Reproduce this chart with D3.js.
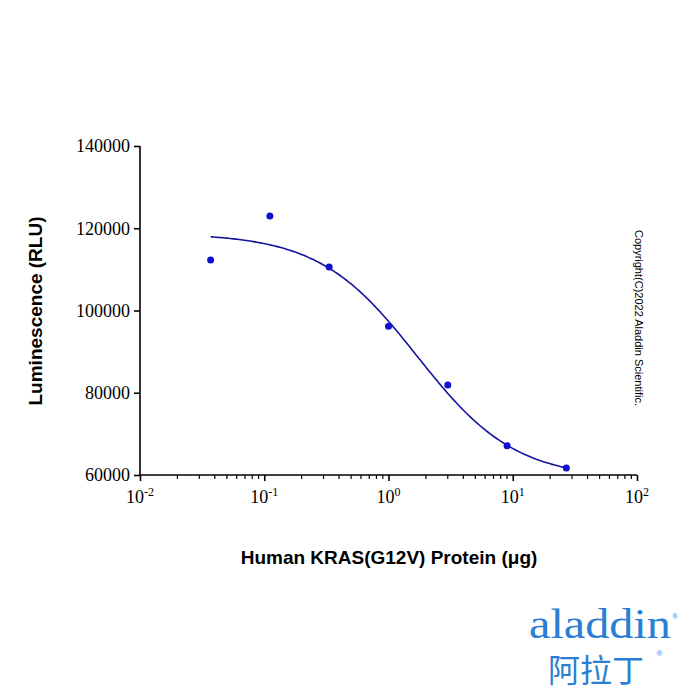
<!DOCTYPE html>
<html><head><meta charset="utf-8">
<script src="https://cdn.jsdelivr.net/npm/d3@7"></script>
<style>body{margin:0;background:#fff}</style></head>
<body><svg id="c" width="700" height="700"></svg>
<script>
const doses = [0.037, 0.111, 0.333, 1, 3, 9, 27];
const lum = [112300, 123000, 110600, 96200, 81900, 67100, 61700];
const yTicks = [60000, 80000, 100000, 120000, 140000];
const xTickExps = [-2, -1, 0, 1, 2];
// 4PL fit parameters
const fitTop = 118800, fitBottom = 59000, fitEC50 = 1.7, fitHill = 1.1;

const svg = d3.select("#c");
const x = d3.scaleLog().domain([0.01, 100]).range([140, 637]);
const y = d3.scaleLinear().domain([60000, 140000]).range([475, 146]);
const serif = "Liberation Serif, Times New Roman, serif";

const ya = svg.append("g").attr("transform","translate(140,0)")
  .call(d3.axisLeft(y).tickValues(yTicks).tickSize(6).tickFormat(d3.format("d")));
ya.selectAll("text").attr("font-family",serif).attr("font-size",18).attr("fill","#000").attr("dx",-1);
ya.selectAll("line,path").attr("stroke","#000").attr("stroke-width",1.6);
ya.select(".domain").attr("d","M0,475V146");

const minor = [];
for (let e=-2;e<2;e++) for (let k=2;k<=9;k++) minor.push(k*Math.pow(10,e));
const xa = svg.append("g").attr("transform","translate(0,475)");
xa.call(d3.axisBottom(x).tickValues(xTickExps.map(e=>Math.pow(10,e))).tickSize(6).tickFormat(""));
xa.selectAll("line,path").attr("stroke","#000").attr("stroke-width",1.6);
xa.select(".domain").attr("d","M140,0H637");
xa.selectAll(".mn").data(minor).join("line").attr("class","mn")
  .attr("x1",d=>x(d)).attr("x2",d=>x(d)).attr("y1",0).attr("y2",4)
  .attr("stroke","#000").attr("stroke-width",1.2);
xTickExps.forEach(e=>{
  const t = svg.append("text").attr("x",x(Math.pow(10,e))).attr("y",503)
    .attr("text-anchor","middle").attr("font-family",serif).attr("font-size",18);
  t.append("tspan").text("10");
  t.append("tspan").attr("dy",-7).attr("font-size",12).text(String(e));
});

const cx = d3.range(0,201).map(i=>Math.pow(10, Math.log10(doses[0]) + i/200*(Math.log10(doses[6])-Math.log10(doses[0]))));
const line = d3.line().x(d=>x(d)).y(d=>y(fitBottom+(fitTop-fitBottom)/(1+Math.pow(d/fitEC50,fitHill))));
svg.append("path").attr("d",line(cx)).attr("fill","none").attr("stroke","#1414a0").attr("stroke-width",1.6);
svg.selectAll(".pt").data(doses).join("circle").attr("cx",d=>x(d)).attr("cy",(d,i)=>y(lum[i])).attr("r",3.5).attr("fill","#1010d0");

const sans = "Liberation Sans, Arial, sans-serif";
svg.append("text").attr("transform","translate(42,311) rotate(-90)").attr("text-anchor","middle")
  .attr("font-family",sans).attr("font-weight","bold").attr("font-size",19).text("Luminescence (RLU)");
svg.append("text").attr("x",389).attr("y",564).attr("text-anchor","middle")
  .attr("font-family",sans).attr("font-weight","bold").attr("font-size",19).text("Human KRAS(G12V) Protein (μg)");
svg.append("text").attr("transform","translate(635,318) rotate(90)").attr("text-anchor","middle")
  .attr("font-family",sans).attr("font-size",11).text("Copyright(C)2022 Aladdin Scientific.");

// logo
svg.append("text").attr("x",529).attr("y",638).attr("font-family",serif).attr("font-size",42)
  .attr("textLength",142).attr("lengthAdjust","spacingAndGlyphs").attr("fill","#2a7fd4").text("aladdin");
svg.append("text").attr("x",672).attr("y",619).attr("font-size",8).attr("fill","#2a7fd4").text("®");
svg.append("text").attr("x",548).attr("y",682).attr("font-family","Noto Sans CJK SC").attr("font-size",32).attr("fill","#2a7fd4").text("阿拉丁");
svg.append("text").attr("x",656).attr("y",656).attr("font-size",9).attr("fill","#2a7fd4").text("®");
</script></body></html>
